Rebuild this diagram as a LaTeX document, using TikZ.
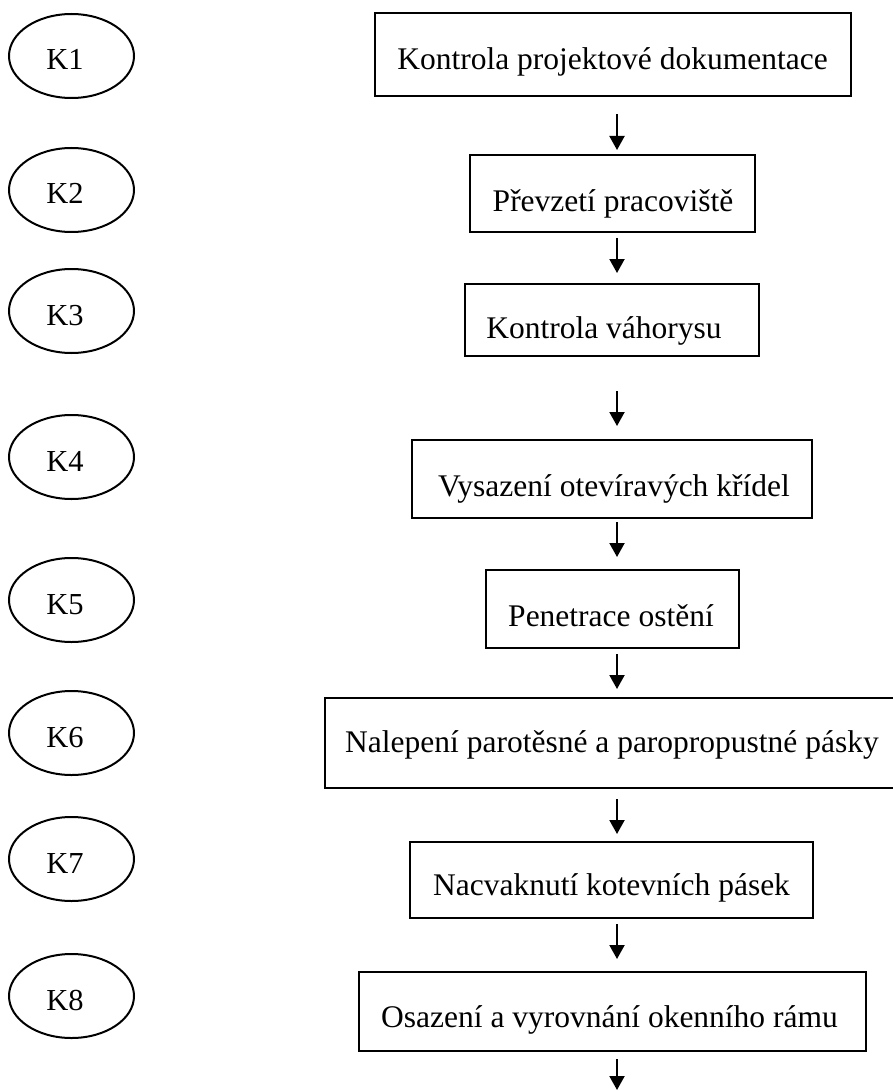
\documentclass[tikz,border=0pt]{standalone}
\usepackage{fontspec}
\setmainfont{Liberation Serif}
\usetikzlibrary{arrows.meta,shapes.geometric}
\begin{document}
\begin{tikzpicture}[x=1pt,y=-1pt,
  kell/.style={draw, line width=2pt, ellipse, minimum width=125pt, minimum height=84pt, inner sep=0pt},
  stepbox/.style={draw, line width=2pt, rectangle, inner sep=0pt},
  lbl/.style={anchor=base, inner sep=0pt, font=\fontsize{31.5}{36}\selectfont},
  klbl/.style={anchor=base, inner sep=0pt, font=\fontsize{30.5}{36}\selectfont},
  arr/.style={line width=2pt, -{Triangle[width=15pt,length=14pt]}}]
\useasboundingbox (0,0) rectangle (893,1091);
\clip (0,0) rectangle (893,1091);
% left ellipses
\node[kell] (k1) at (71.5,56) {};
\node[kell] (k2) at (71.5,190) {};
\node[kell] (k3) at (71.5,311) {};
\node[kell] (k4) at (71.5,457) {};
\node[kell] (k5) at (71.5,600) {};
\node[kell] (k6) at (71.5,733) {};
\node[kell] (k7) at (71.5,859) {};
\node[kell] (k8) at (71.5,996) {};
\node[klbl] (kt1) at (65,70) {K1};
\node[klbl] (kt2) at (65,204) {K2};
\node[klbl] (kt3) at (65,325) {K3};
\node[klbl] (kt4) at (65,471) {K4};
\node[klbl] (kt5) at (65,614) {K5};
\node[klbl] (kt6) at (65,747) {K6};
\node[klbl] (kt7) at (65,873) {K7};
\node[klbl] (kt8) at (65,1010) {K8};
% boxes
\node[stepbox, minimum width=476pt, minimum height=83pt] (b1) at (613,54.5) {};
\node[stepbox, minimum width=285pt, minimum height=77pt] (b2) at (612.5,193.5) {};
\node[stepbox, minimum width=294pt, minimum height=72pt] (b3) at (612,320) {};
\node[stepbox, minimum width=400pt, minimum height=78pt] (b4) at (612,479) {};
\node[stepbox, minimum width=253pt, minimum height=78pt] (b5) at (612.5,609) {};
\node[stepbox, minimum width=584pt, minimum height=90pt] (b6) at (617,743) {};
\node[stepbox, minimum width=403pt, minimum height=76pt] (b7) at (611.5,880) {};
\node[stepbox, minimum width=507pt, minimum height=79pt] (b8) at (612.5,1011.5) {};
% box texts
\node[lbl] (t1) at (612.5,70) {Kontrola projektové dokumentace};
\node[lbl] (t2) at (613,212) {Převzetí pracoviště};
\node[lbl] (t3) at (604,338) {Kontrola váhorysu};
\node[lbl] (t4) at (614,496) {Vysazení otevíravých křídel};
\node[lbl] (t5) at (611,626) {Penetrace ostění};
\node[lbl] (t6) at (612,752) {Nalepení parotěsné a paropropustné pásky};
\node[lbl] (t7) at (611.5,895) {Nacvaknutí kotevních pásek};
\node[lbl] (t8) at (609.5,1027) {Osazení a vyrovnání okenního rámu};
% arrows
\coordinate (ax) at (617,0);
\coordinate (aend) at (617,1091);
\draw[arr, shorten <=17pt, shorten >=4pt] (b1.south -| ax) -- (b2.north -| ax);
\draw[arr, shorten <=5pt, shorten >=10pt] (b2.south -| ax) -- (b3.north -| ax);
\draw[arr, shorten <=34pt, shorten >=13pt] (b3.south -| ax) -- (b4.north -| ax);
\draw[arr, shorten <=3pt, shorten >=12pt] (b4.south -| ax) -- (b5.north -| ax);
\draw[arr, shorten <=5pt, shorten >=8pt] (b5.south -| ax) -- (b6.north -| ax);
\draw[arr, shorten <=10pt, shorten >=7pt] (b6.south -| ax) -- (b7.north -| ax);
\draw[arr, shorten <=5pt, shorten >=12pt] (b7.south -| ax) -- (b8.north -| ax);
\draw[arr, shorten <=7pt, shorten >=1pt] (b8.south -| ax) -- (aend);
\end{tikzpicture}
\end{document}
